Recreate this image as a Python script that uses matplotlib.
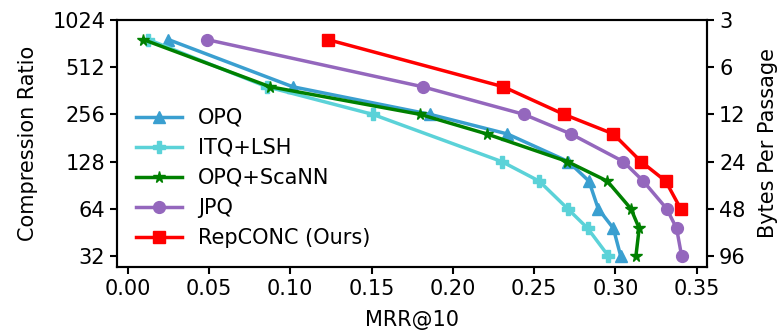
import matplotlib
matplotlib.use("Agg")
import matplotlib.pyplot as plt

# --- data ---
ratio_all = [768, 384, 256, 192, 128, 96, 64, 48, 32]
ratio_itq = [768, 384, 256, 128, 96, 64, 48, 32]
ratio_rep = [768, 384, 256, 192, 128, 96, 64]

opq = [0.025, 0.1015, 0.186, 0.2335, 0.271, 0.2837, 0.2894, 0.2987, 0.3032]
itq_lsh = [0.0127, 0.0855, 0.1507, 0.230, 0.2531, 0.2706, 0.2829, 0.2956]
opq_scann = [0.0096, 0.0875, 0.1798, 0.2208, 0.2704, 0.295, 0.3095, 0.3146, 0.3126]
jpq = [0.0486, 0.1814, 0.2437, 0.2726, 0.3048, 0.3171, 0.3315, 0.3376, 0.3407]
repconc = [0.123, 0.231, 0.2683, 0.2987, 0.3157, 0.3309, 0.3401]

ratio_ticks = [1024, 512, 256, 128, 64, 32]
bytes_ticks = [3, 6, 12, 24, 48, 96]

plt.rcParams["font.size"] = 15

fig = plt.figure(figsize=(7.81, 3.31), dpi=100)
ax = fig.add_axes([117 / 781, 1 - 266.7 / 331, (707.3 - 117) / 781, (266.7 - 20) / 331])

ax.plot(opq, ratio_all, "-^", color="#3a9fd0", lw=2.5, ms=8.5, label="OPQ")
ax.plot(itq_lsh, ratio_itq, "-P", color="#5bd2d8", lw=2.5, ms=8.5, label="ITQ+LSH")
ax.plot(opq_scann, ratio_all, "-*", color="green", lw=2.5, ms=8.5, label="OPQ+ScaNN")
ax.plot(jpq, ratio_all, "-o", color="#9467bd", lw=2.5, ms=8.5, label="JPQ")
ax.plot(repconc, ratio_rep, "-s", color="red", lw=2.5, ms=8.5, label="RepCONC (Ours)")

ax.set_yscale("log", base=2)
ax.set_ylim(27.3, 1024)
ax.set_xlim(-0.0066, 0.3565)
ax.set_yticks(ratio_ticks)
ax.set_yticklabels([str(t) for t in ratio_ticks])
ax.minorticks_off()
ax.set_xticks([0.0, 0.05, 0.10, 0.15, 0.20, 0.25, 0.30, 0.35])
ax.set_xlabel("MRR@10", labelpad=8)
ax.set_ylabel("Compression Ratio", labelpad=10)

# --- right axis: bytes per passage ---
ax2 = ax.twinx()
ax2.set_yscale("log", base=2)
ax2.set_ylim(ax.get_ylim())
ax2.set_yticks(ratio_ticks)
ax2.set_yticklabels([str(b) for b in bytes_ticks])
ax2.minorticks_off()
ax2.set_ylabel("Bytes Per Passage", labelpad=9)

for a in (ax, ax2):
    for s in a.spines.values():
        s.set_linewidth(1.5)
    a.tick_params(width=1.5, length=5)

ax.legend(loc="lower left", frameon=False, fontsize=15, handlelength=2.2,
          labelspacing=0.48, bbox_to_anchor=(0.0, 0.0))

fig.savefig("out.png", dpi=100)
